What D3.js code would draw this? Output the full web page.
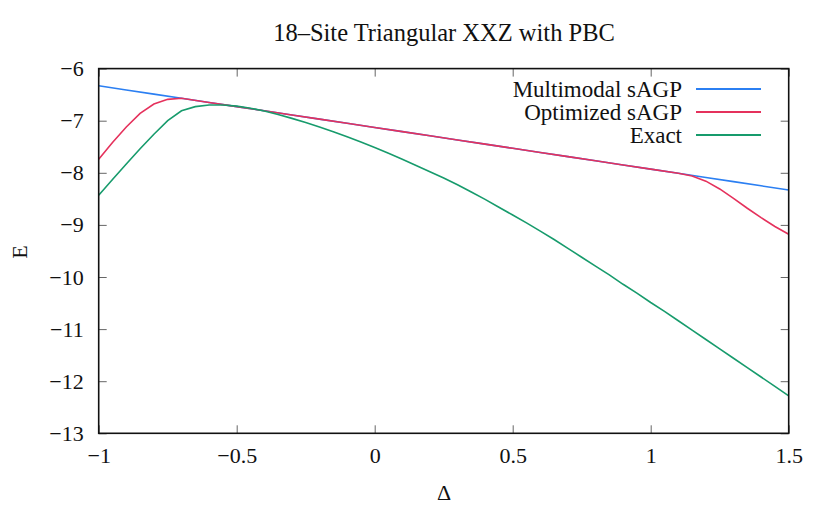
<!DOCTYPE html>
<html>
<head>
<meta charset="utf-8">
<script src="https://cdn.jsdelivr.net/npm/d3@7"></script>
<style>
  body { margin: 0; background: #fff; }
  text { font-family: "Liberation Serif", "DejaVu Serif", serif; fill: #111; }
</style>
</head>
<body>
<svg width="830" height="508"></svg>
<script>
var svg = d3.select('svg');

// data
var xTicks = [-1, -0.5, 0, 0.5, 1, 1.5];
var yTicks = [-6, -7, -8, -9, -10, -11, -12, -13];

var multimodalX = [-1, -0.9, -0.8, -0.7, -0.6, -0.5, -0.4, -0.3, -0.2, -0.1, 0, 0.1, 0.2, 0.3, 0.4, 0.5, 0.6, 0.7, 0.8, 0.9, 1.0, 1.1, 1.2, 1.3, 1.4, 1.5];
var multimodalE = [-6.33, -6.41, -6.49, -6.57, -6.65, -6.73, -6.81, -6.89, -6.97, -7.05, -7.13, -7.21, -7.29, -7.37, -7.45, -7.53, -7.61, -7.69, -7.77, -7.85, -7.93, -8.01, -8.09, -8.17, -8.25, -8.33];

var optimizedX = [-1, -0.95, -0.9, -0.85, -0.8, -0.75, -0.7, -0.6, -0.5, -0.4, -0.3, -0.2, -0.1, 0, 0.1, 0.2, 0.3, 0.4, 0.5, 0.6, 0.7, 0.8, 0.9, 1.0, 1.1, 1.15, 1.2, 1.25, 1.3, 1.35, 1.4, 1.45, 1.5];
var optimizedE = [-7.74, -7.42, -7.12, -6.86, -6.68, -6.59, -6.57, -6.65, -6.73, -6.81, -6.89, -6.97, -7.05, -7.13, -7.21, -7.29, -7.37, -7.45, -7.53, -7.61, -7.69, -7.77, -7.85, -7.93, -8.01, -8.06, -8.16, -8.31, -8.49, -8.68, -8.86, -9.03, -9.18];

var exactX = [-1, -0.95, -0.9, -0.85, -0.8, -0.75, -0.7, -0.65, -0.6, -0.55, -0.5, -0.45, -0.4, -0.35, -0.3, -0.25, -0.2, -0.15, -0.1, -0.05, 0, 0.05, 0.1, 0.15, 0.2, 0.25, 0.3, 0.35, 0.4, 0.45, 0.5, 0.55, 0.6, 0.65, 0.7, 0.75, 0.8, 0.85, 0.9, 0.95, 1.0, 1.05, 1.1, 1.15, 1.2, 1.25, 1.3, 1.35, 1.4, 1.45, 1.5];
var exactE = [-8.43, -8.13, -7.83, -7.54, -7.26, -7.00, -6.81, -6.73, -6.70, -6.70, -6.72, -6.76, -6.815, -6.88, -6.955, -7.035, -7.12, -7.21, -7.31, -7.41, -7.515, -7.625, -7.74, -7.86, -7.98, -8.10, -8.23, -8.37, -8.51, -8.66, -8.81, -8.96, -9.12, -9.28, -9.45, -9.62, -9.79, -9.96, -10.14, -10.31, -10.49, -10.66, -10.84, -11.02, -11.20, -11.38, -11.56, -11.74, -11.92, -12.10, -12.28];

var seriesNames = ['Multimodal sAGP', 'Optimized sAGP', 'Exact'];
var seriesColors = ['#2b7ff2', '#e5315c', '#179b6c'];

var series = [
    {name: seriesNames[0], color: seriesColors[0], pts: d3.zip(multimodalX, multimodalE)},
    {name: seriesNames[1], color: seriesColors[1], pts: d3.zip(optimizedX, optimizedE)},
    {name: seriesNames[2], color: seriesColors[2], pts: d3.zip(exactX, exactE)}
];

var plot = {l: 98.7, r: 788.7, t: 68.6, b: 433.3};

var x = d3.scaleLinear().domain([-1, 1.5]).range([plot.l, plot.r]);
var y = d3.scaleLinear().domain([-13, -6]).range([plot.b, plot.t]);

function fmt(v) { return v < 0 ? '\u2212' + Math.abs(v) : '' + v; }

var tickLen = 8;

// axes: labelled bottom/left, mirrored ticks top/right, all pointing inward
var gx = svg.append('g').attr('transform', 'translate(0,' + plot.b + ')')
    .call(d3.axisBottom(x).tickValues(xTicks).tickSize(-tickLen).tickPadding(14).tickFormat(fmt));
var gxTop = svg.append('g').attr('transform', 'translate(0,' + plot.t + ')')
    .call(d3.axisTop(x).tickValues(xTicks).tickSize(-tickLen).tickFormat(''));
var gy = svg.append('g').attr('transform', 'translate(' + plot.l + ',0)')
    .call(d3.axisLeft(y).tickValues(yTicks).tickSize(-tickLen).tickPadding(15).tickFormat(fmt));
var gyRight = svg.append('g').attr('transform', 'translate(' + plot.r + ',0)')
    .call(d3.axisRight(y).tickValues(yTicks).tickSize(-tickLen).tickFormat(''));

[gx, gxTop, gy, gyRight].forEach(function(g) {
    g.select('.domain').remove();
    g.selectAll('.tick line').attr('stroke', '#666').attr('stroke-width', 1);
    g.selectAll('.tick text').style('font-family', '"Liberation Serif", serif').style('font-size', '22px').attr('fill', '#111');
});

var line = d3.line().x(d => x(d[0])).y(d => y(d[1]));

svg.append('g').selectAll('path')
    .data(series)
    .join('path')
    .attr('d', d => line(d.pts))
    .attr('fill', 'none')
    .attr('stroke', d => d.color)
    .attr('stroke-width', 1.6);

// frame
svg.append('rect')
    .attr('x', plot.l).attr('y', plot.t)
    .attr('width', plot.r - plot.l).attr('height', plot.b - plot.t)
    .attr('fill', 'none').attr('stroke', '#111').attr('stroke-width', 1.6);

// legend
var legend = svg.append('g');
legend.selectAll('line')
    .data(series)
    .join('line')
    .attr('x1', 696).attr('x2', 761)
    .attr('y1', (d, i) => 89 + i * 23)
    .attr('y2', (d, i) => 89 + i * 23)
    .attr('stroke', d => d.color)
    .attr('stroke-width', 1.8);
legend.selectAll('text')
    .data(series)
    .join('text')
    .attr('x', 682)
    .attr('y', (d, i) => 89 + i * 23)
    .attr('dy', '0.35em')
    .style('text-anchor', 'end')
    .style('font-size', '23px')
    .text(d => d.name);

svg.append('text')
    .attr('x', 444).attr('y', 41)
    .style('text-anchor', 'middle')
    .style('font-size', '24.5px')
    .text('18\u2013Site Triangular XXZ with PBC');

svg.append('text')
    .attr('x', 444).attr('y', 500)
    .style('text-anchor', 'middle')
    .style('font-size', '22px')
    .text('\u0394');

svg.append('text')
    .attr('transform', 'translate(27,252) rotate(-90)')
    .style('text-anchor', 'middle')
    .style('font-size', '22px')
    .text('E');
</script>
</body>
</html>
